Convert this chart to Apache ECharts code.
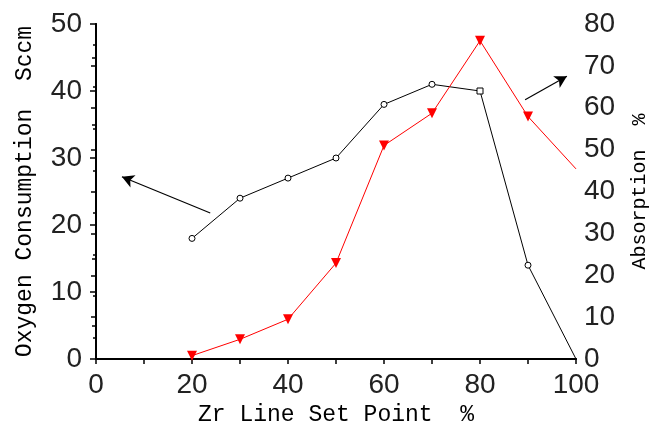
<!DOCTYPE html>
<html><head><meta charset="utf-8">
<script src="https://cdn.jsdelivr.net/npm/echarts@6/dist/echarts.min.js"></script>
<style>html,body{margin:0;padding:0;background:#fff}#c{width:650px;height:426px}</style>
</head><body><div id="c"></div>
<script>
const xValues = [20, 30, 40, 50, 60, 70, 80, 90, 100];
const oxygen = [18, 24, 27, 30, 38, 41, 40, 14, 0];
const absorption = [0.8, 4.7, 9.5, 22.9, 51, 58.7, 76, 57.9, 45.4];
const xTicks = [0, 20, 40, 60, 80, 100];
const leftTicks = [0, 10, 20, 30, 40, 50];
const rightTicks = [0, 10, 20, 30, 40, 50, 60, 70, 80];
// arrow annotations in left-axis data units: [from, to]
const arrowLeft = [[23.8, 21.8], [5.4, 27.2]];
const arrowRight = [[89.4, 38.7], [98.1, 42.2]];

const labelFont = {fontFamily: 'Liberation Sans', fontSize: 28, color: '#222'};
const titleFont = {fontFamily: 'Liberation Mono', fontSize: 23, color: '#000'};
const axLine = {show: true, lineStyle: {color: '#000', width: 2}};

const chart = echarts.init(document.getElementById('c'), null, {renderer: 'canvas'});
chart.setOption({
  backgroundColor: '#fff',
  animation: false,
  grid: {left: 96, right: 74, top: 24, bottom: 67, containLabel: false, outerBoundsMode: 'none'},
  xAxis: [{
    type: 'value', position: 'bottom', min: xTicks[0], max: xTicks[xTicks.length - 1], interval: 20,
    axisLine: axLine, splitLine: {show: false},
    axisTick: {show: true, inside: false, length: 5, lineStyle: {color: '#000', width: 1.5}},
    minorTick: {show: true, splitNumber: 2, length: 5, lineStyle: {color: '#000', width: 1.5}},
    axisLabel: Object.assign({margin: 12}, labelFont),
    name: 'Zr Line Set Point  %', nameLocation: 'middle', nameGap: 34, nameTextStyle: titleFont
  }, {
    type: 'value', position: 'top', min: 0, max: 100, interval: 20,
    axisLine: axLine, splitLine: {show: false},
    axisTick: {show: true, inside: true, length: 5, lineStyle: {color: '#000', width: 1.5}},
    minorTick: {show: true, splitNumber: 2, length: 5, lineStyle: {color: '#000', width: 1.5}},
    axisLabel: {show: false}
  }],
  yAxis: [{
    type: 'value', position: 'left', min: leftTicks[0], max: leftTicks[leftTicks.length - 1], interval: 10,
    axisLine: axLine, splitLine: {show: false},
    axisTick: {show: true, inside: false, length: 6, lineStyle: {color: '#000', width: 1.5}},
    minorTick: {show: true, splitNumber: 2, length: 4, lineStyle: {color: '#000', width: 1.5}},
    axisLabel: Object.assign({margin: 14}, labelFont),
    name: 'Oxygen Consumption  Sccm', nameLocation: 'middle', nameRotate: 90, nameGap: 60, nameTextStyle: titleFont
  }, {
    type: 'value', position: 'right', min: rightTicks[0], max: rightTicks[rightTicks.length - 1], interval: 10,
    axisLine: axLine, splitLine: {show: false},
    axisTick: {show: true, inside: true, length: 5, lineStyle: {color: '#000', width: 1.5}},
    minorTick: {show: true, splitNumber: 2, length: 3, lineStyle: {color: '#000', width: 1.5}},
    axisLabel: Object.assign({margin: 8}, labelFont),
    name: 'Absorption  %', nameLocation: 'middle', nameRotate: 90, nameGap: 54,
    nameTextStyle: Object.assign({}, titleFont, {fontSize: 20})
  }],
  series: [{
    type: 'line', xAxisIndex: 0, yAxisIndex: 0,
    data: xValues.map((x, i) => [x, oxygen[i]]),
    symbol: (v, p) => p.dataIndex === xValues.length - 1 ? 'none' : (p.dataIndex === 6 ? 'rect' : 'circle'),
    symbolSize: 6,
    itemStyle: {color: '#fff', borderColor: '#000', borderWidth: 1},
    lineStyle: {color: '#000', width: 1},
    markLine: {
      silent: true, animation: false,
      symbol: ['none', 'arrow'], symbolSize: [10, 12],
      label: {show: false},
      lineStyle: {color: '#000', width: 1.2, type: 'solid'},
      data: [
        [{coord: arrowLeft[0]}, {coord: arrowLeft[1]}],
        [{coord: arrowRight[0]}, {coord: arrowRight[1]}]
      ]
    }
  }, {
    type: 'line', xAxisIndex: 0, yAxisIndex: 1,
    data: xValues.map((x, i) => [x, absorption[i]]),
    symbol: (v, p) => p.dataIndex === xValues.length - 1 ? 'none' : 'triangle',
    symbolRotate: 180, symbolSize: 10,
    itemStyle: {color: '#ff0000'},
    lineStyle: {color: '#ff0000', width: 1}
  }]
});
</script></body></html>
